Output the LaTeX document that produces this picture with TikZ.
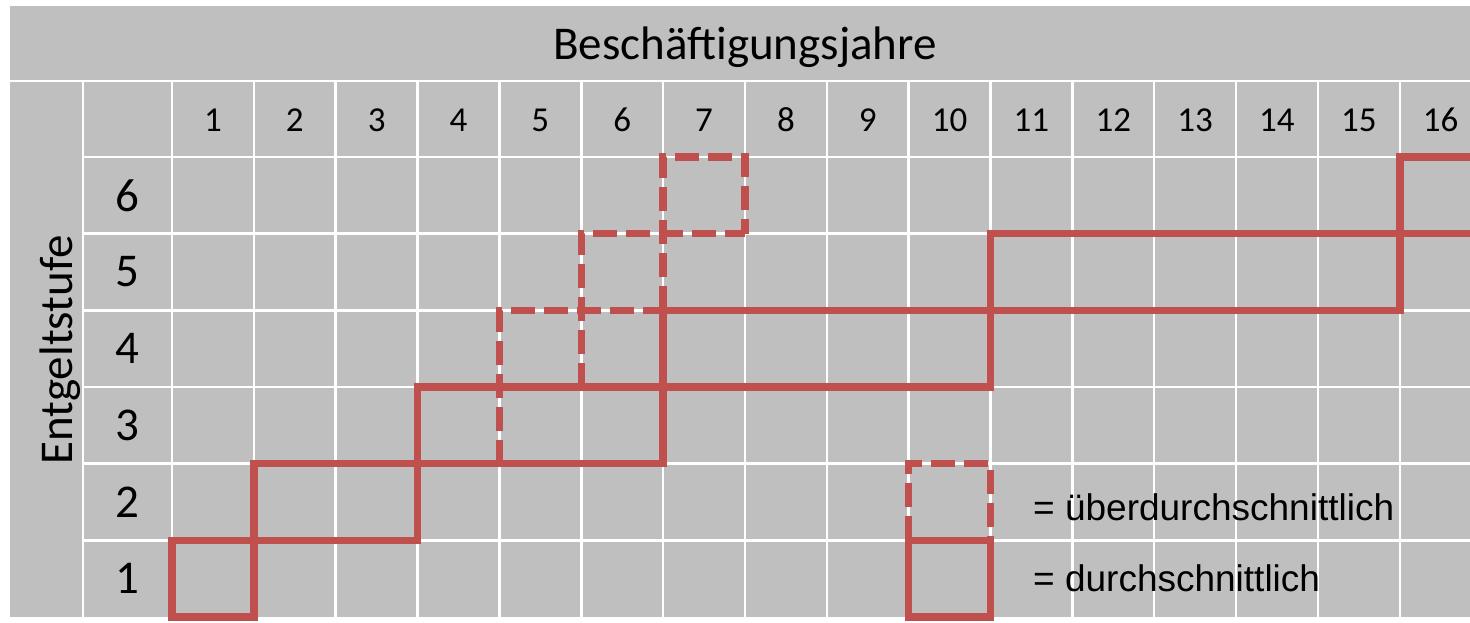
\documentclass[tikz,border=0pt]{standalone}
\usepackage{fontspec}
\setmainfont{Carlito}
\newfontfamily\legfont{Liberation Sans}
\definecolor{cellgray}{HTML}{BFBFBF}
\definecolor{stepred}{HTML}{C0504D}
\begin{document}
\begin{tikzpicture}[x=1pt,y=-1pt,
  gridline/.style={white,line width=2.5pt},
  solidstep/.style={stepred,line width=7.5pt,line cap=rect,line join=miter},
  dashstep/.style={stepred,line width=7.5pt,line join=miter,dash pattern=on 24pt off 9pt},
  bigtxt/.style={inner sep=0pt,font=\fontsize{47}{47}\selectfont},
  hdrtxt/.style={inner sep=0pt,font=\fontsize{35}{35}\selectfont},
  legtxt/.style={inner sep=0pt,anchor=base west,font=\legfont\fontsize{37}{37}\selectfont}]
\useasboundingbox (0,0) rectangle (1470,623);
% background
\fill[cellgray] (10,6) rectangle (1470,617);
% grid
\draw[gridline] (10,81) -- (1470,81);
\foreach \y in {157,233.67,310.33,387,463.67,540.33} \draw[gridline] (83,\y) -- (1470,\y);
\draw[gridline] (83,81) -- (83,617);
\foreach \k in {0,...,15} \draw[gridline] ({172+81.85*\k},81) -- ({172+81.85*\k},617);
% texts
\node[bigtxt,anchor=base] (title) at (745,60) {Beschäftigungsjahre};
\node[bigtxt,anchor=base,rotate=90] (ylabel) at (72,350) {Entgeltstufe};
\foreach \k in {1,...,16} \node[hdrtxt] (h\k) at ({172+81.85*(\k-0.5)},120) {\k};
\foreach \j in {1,...,6} \node[bigtxt] (r\j) at (127.5,{617-76.67*(\j-0.5)}) {\j};
% solid staircase
\draw[solidstep] (253.85,463.67) -- (253.85,617) -- (172,617) -- (172,540.33) -- (417.55,540.33)
  -- (417.55,387) -- (990.5,387) -- (990.5,233.67) -- (1475,233.67);
\draw[solidstep] (253.85,463.67) -- (663.1,463.67) -- (663.1,310.33) -- (1399.75,310.33)
  -- (1399.75,157) -- (1475,157);
% dashed (above average)
\draw[dashstep] (499.4,463.67) -- (499.4,310.33) -- (663.1,310.33);
\draw[dashstep] (581.25,387) -- (581.25,233.67) -- (744.95,233.67);
\draw[dashstep] (663.1,310.33) -- (663.1,157) -- (744.95,157) -- (744.95,233.67);
% legend
\draw[dashstep] (908.65,540.33) -- (908.65,463.67) -- (990.5,463.67) -- (990.5,540.33);
\draw[solidstep] (908.65,540.33) rectangle (990.5,617);
\node[legtxt] (leg1) at (1033,520) {= überdurchschnittlich};
\node[legtxt] (leg2) at (1033,591) {= durchschnittlich};
\end{tikzpicture}
\end{document}
